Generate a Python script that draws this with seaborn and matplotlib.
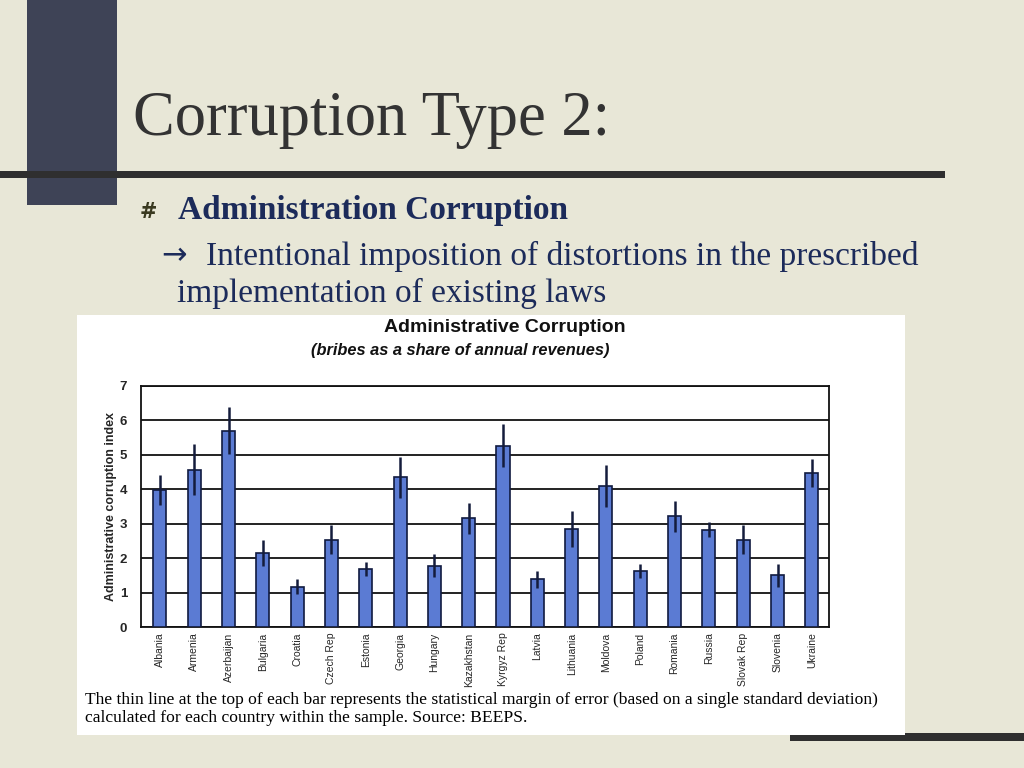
import matplotlib
matplotlib.use("Agg")
import matplotlib.pyplot as plt
import seaborn as sns
import pandas as pd
from matplotlib.patches import Rectangle

countries = ["Albania", "Armenia", "Azerbaijan", "Bulgaria", "Croatia", "Czech Rep",
             "Estonia", "Georgia", "Hungary", "Kazakhstan", "Kyrgyz Rep", "Latvia",
             "Lithuania", "Moldova", "Poland", "Romania", "Russia", "Slovak Rep",
             "Slovenia", "Ukraine"]
values = [3.98, 4.57, 5.70, 2.16, 1.17, 2.54, 1.68, 4.35, 1.78, 3.16, 5.27, 1.38,
          2.85, 4.10, 1.62, 3.22, 2.82, 2.54, 1.50, 4.48]
errors = [0.43, 0.75, 0.68, 0.38, 0.21, 0.41, 0.21, 0.60, 0.34, 0.45, 0.62, 0.26,
          0.52, 0.61, 0.21, 0.45, 0.22, 0.41, 0.33, 0.41]
yticks = [0, 1, 2, 3, 4, 5, 6, 7]

df = pd.DataFrame({"country": countries, "value": values})

sns.set_theme(style="white")
plt.rcParams['font.family'] = ['Liberation Sans', 'DejaVu Sans']

fig = plt.figure(figsize=(10.24, 7.68), dpi=100)
fig.patch.set_facecolor("#e8e7d7")

# slide decorations
fig.patches.append(Rectangle((27/1024, 1-205/768), 90/1024, 205/768,
                             transform=fig.transFigure, facecolor="#3e4356",
                             edgecolor="none", zorder=1))
fig.patches.append(Rectangle((0, 1-178/768), 945/1024, 7/768,
                             transform=fig.transFigure, facecolor="#2f2f2f",
                             edgecolor="none", zorder=2))
fig.patches.append(Rectangle((790/1024, 1-741/768), 234/1024, 8/768,
                             transform=fig.transFigure, facecolor="#2f2f2f",
                             edgecolor="none", zorder=1))
# white chart panel
fig.patches.append(Rectangle((77/1024, 1-735/768), 828/1024, 420/768,
                             transform=fig.transFigure, facecolor="white",
                             edgecolor="none", zorder=3))

serif = ['Liberation Serif', 'DejaVu Serif']
fig.text(133/1024, 1-120/768, "Corruption Type 2:", family=serif, fontsize=45,
         color="#333333", va="center", ha="left")
fig.text(140/1024, 1-212/768, "#", family=['DejaVu Sans'], fontsize=15,
         fontweight="bold", color="#3a3a20", va="center", ha="left")
fig.text(178/1024, 1-211/768, "Administration Corruption", family=serif,
         fontsize=24, fontweight="bold", color="#1c2b5a", va="center", ha="left")
fig.text(161/1024, 1-256/768, "\u2192", family=['DejaVu Sans'], fontsize=22,
         color="#1c2b5a", va="center", ha="left")
fig.text(206/1024, 1-256/768, "Intentional imposition of distortions in the prescribed",
         family=serif, fontsize=24, color="#1c2b5a", va="center", ha="left")
fig.text(177/1024, 1-293/768, "implementation of existing laws",
         family=serif, fontsize=24, color="#1c2b5a", va="center", ha="left")

# chart titles
fig.text(505/1024, 1-328/768, "Administrative Corruption", fontsize=14,
         fontweight="bold", color="#111111", va="center", ha="center", zorder=5)
fig.text(460/1024, 1-350/768, "(bribes as a share of annual revenues)", fontsize=11.8,
         fontweight="bold", style="italic", color="#111111", va="center",
         ha="center", zorder=5)

ax = fig.add_axes([141/1024, 1-627/768, 688/1024, 241/768], zorder=4)
ax.set_facecolor("white")
sns.barplot(data=df, x="country", y="value", ax=ax, color="#5b7bd3",
            saturation=1, width=0.38, edgecolor="#101a40", linewidth=1.2, zorder=3)
ax.errorbar(range(len(countries)), values, yerr=errors, fmt="none",
            ecolor="#141c3c", elinewidth=1.8, capsize=0, zorder=4)

ax.set_ylim(0, 7)
ax.set_xlim(-0.55, len(countries) - 0.5)
ax.set_yticks(yticks)
ax.set_yticklabels([str(t) for t in yticks], fontweight="bold", fontsize=9.5)
ax.yaxis.grid(True, color="#111111", linewidth=1.3)
ax.set_axisbelow(True)
ax.tick_params(axis="y", length=0, pad=10)
ax.tick_params(axis="x", length=0, pad=4)
ax.set_xticks(range(len(countries)))
ax.set_xticklabels(countries, rotation=90, fontsize=7.5)
ax.set_xlabel("")
ax.set_ylabel("Administrative corruption index", fontsize=9, fontweight="bold",
              labelpad=2)
for s in ax.spines.values():
    s.set_color("#111111")
    s.set_linewidth(1.3)
    s.set_visible(True)

fig.text(85/1024, 1-700/768,
         "The thin line at the top of each bar represents the statistical margin of error (based on a single standard deviation)",
         family=serif, fontsize=12.6, color="#000000", va="center", ha="left", zorder=5)
fig.text(85/1024, 1-718/768,
         "calculated for each country within the sample. Source: BEEPS.",
         family=serif, fontsize=12.6, color="#000000", va="center", ha="left", zorder=5)

fig.savefig("out.png", dpi=100, facecolor=fig.get_facecolor())
